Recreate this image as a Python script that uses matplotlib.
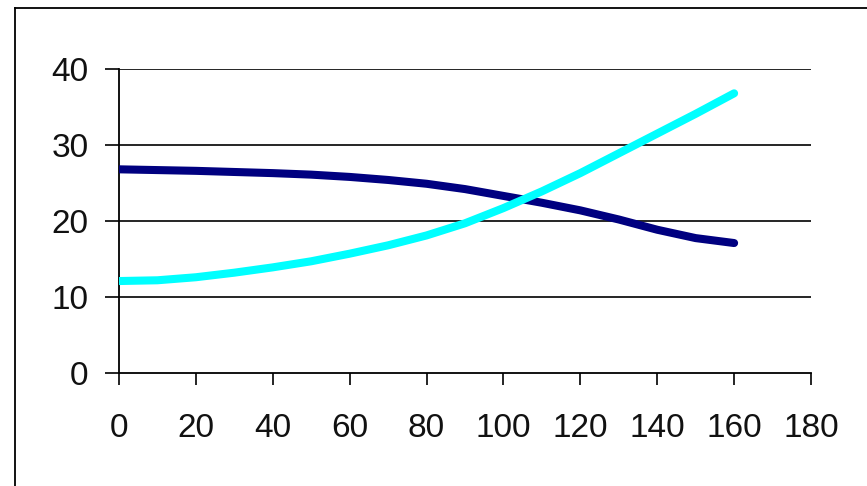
import matplotlib
matplotlib.use("Agg")
import matplotlib.pyplot as plt
from matplotlib.lines import Line2D

x_vals = [0, 10, 20, 30, 40, 50, 60, 70, 80, 90, 100, 110, 120, 130, 140, 150, 160]
navy_vals = [26.8, 26.7, 26.6, 26.45, 26.3, 26.1, 25.8, 25.4, 24.9, 24.2, 23.3, 22.4, 21.4, 20.2, 18.85, 17.75, 17.1]
cyan_vals = [12.1, 12.2, 12.6, 13.2, 13.9, 14.7, 15.7, 16.8, 18.1, 19.7, 21.7, 23.9, 26.3, 28.9, 31.5, 34.1, 36.8]
x_ticks = [0, 20, 40, 60, 80, 100, 120, 140, 160, 180]
y_ticks = [0, 10, 20, 30, 40]

plt.rcParams['font.family'] = ['Liberation Sans', 'DejaVu Sans']

fig = plt.figure(figsize=(8.67, 4.86), dpi=100)
W, H = 867, 486
ax = fig.add_axes([119 / W, 1 - 373 / H, (811 - 119) / W, (373 - 69) / H])

ax.plot(x_vals, navy_vals, color='#000080', lw=5.8, solid_capstyle='round', solid_joinstyle='round', zorder=3)
ax.plot(x_vals, cyan_vals, color='#00FFFF', lw=5.8, solid_capstyle='round', solid_joinstyle='round', zorder=4)

ax.set_xlim(0, 180)
ax.set_ylim(0, 40)
ax.set_xticks(x_ticks)
ax.set_yticks(y_ticks)
for y in y_ticks[1:]:
    ax.axhline(y, color='black', lw=1.2, zorder=1)

for s in ['top', 'right']:
    ax.spines[s].set_visible(False)
for s in ['left', 'bottom']:
    ax.spines[s].set_linewidth(1.3)
    ax.spines[s].set_color('black')

ax.tick_params(axis='y', direction='out', length=10, width=1.2, pad=12, labelsize=24, colors='black')
ax.tick_params(axis='x', direction='out', length=8.5, width=1.2, pad=20, labelsize=24, colors='black')
for lab in ax.get_xticklabels() + ax.get_yticklabels():
    lab.set_color('#111111')

fig.add_artist(Line2D([15 / W, 15 / W], [0, 1 - 8 / H], color='black', lw=1.3, transform=fig.transFigure))
fig.add_artist(Line2D([15 / W, 1.0], [1 - 8 / H, 1 - 8 / H], color='black', lw=1.3, transform=fig.transFigure))

fig.savefig('out.png', dpi=100)
